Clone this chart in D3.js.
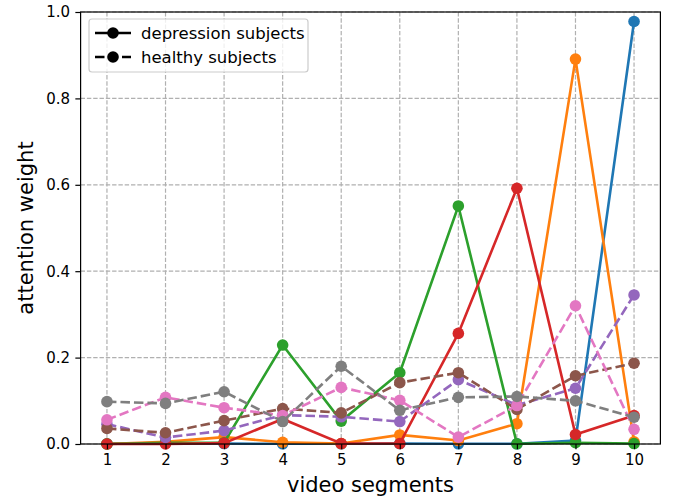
<!DOCTYPE html>
<html>
<head>
<meta charset="utf-8">
<script src="https://cdn.jsdelivr.net/npm/d3@7"></script>
<style>
  body { margin: 0; background: #fff; }
  text { font-family: 'DejaVu Sans', sans-serif; }
</style>
</head>
<body>
<svg class="chart" width="677" height="502"></svg>
<script>
const segments = [1, 2, 3, 4, 5, 6, 7, 8, 9, 10];
const yTicks = [0, 0.2, 0.4, 0.6, 0.8, 1.0];

// depression subjects (solid)
const depBlue = [0.0005, 0.002, 0.001, 0.0005, 0.0005, 0.001, 0.0005, 0.0005, 0.008, 0.978];
const depOrange = [0.0, 0.005, 0.016, 0.004, 0.001, 0.021, 0.008, 0.047, 0.891, 0.005];
const depGreen = [0.0, 0.003, 0.003, 0.229, 0.053, 0.165, 0.551, 0.0005, 0.003, 0.001];
const depRed = [0.0, 0.0, 0.002, 0.058, 0.001, 0.001, 0.256, 0.592, 0.022, 0.066];

// healthy subjects (dashed)
const hlPurple = [0.046, 0.015, 0.031, 0.067, 0.063, 0.052, 0.149, 0.09, 0.129, 0.345];
const hlBrown = [0.036, 0.026, 0.054, 0.082, 0.072, 0.142, 0.165, 0.08, 0.158, 0.187];
const hlPink = [0.056, 0.108, 0.084, 0.066, 0.131, 0.101, 0.016, 0.089, 0.32, 0.034];
const hlGray = [0.098, 0.094, 0.121, 0.052, 0.18, 0.078, 0.108, 0.11, 0.1, 0.062];

const series = [
  { values: depBlue, color: '#1f77b4', dashed: false },
  { values: depOrange, color: '#ff7f0e', dashed: false },
  { values: depGreen, color: '#2ca02c', dashed: false },
  { values: depRed, color: '#d62728', dashed: false },
  { values: hlPurple, color: '#9467bd', dashed: true },
  { values: hlBrown, color: '#8c564b', dashed: true },
  { values: hlPink, color: '#e377c2', dashed: true },
  { values: hlGray, color: '#7f7f7f', dashed: true },
];

const svg = d3.select('.chart');
const plot = { left: 80.6, right: 660.4, top: 12, bottom: 444 };
const lineWidth = 2.6;
const dash = '9.5,4';
const markerR = 5.8;

const x = d3.scaleLinear().domain([0.55, 10.45]).range([plot.left, plot.right]);
const y = d3.scaleLinear().domain([0, 1]).range([plot.bottom, plot.top]);

function drawGrid() {
  const grid = svg.append('g').attr('class', 'grid');
  grid.selectAll('.grid__x')
    .data(segments)
    .enter()
    .append('line')
    .attr('x1', d => x(d)).attr('x2', d => x(d))
    .attr('y1', plot.top).attr('y2', plot.bottom)
    .attr('stroke', '#b0b0b0')
    .attr('stroke-width', 1.2)
    .attr('stroke-dasharray', '4.4,1.9');
  grid.selectAll('.grid__y')
    .data(yTicks)
    .enter()
    .append('line')
    .attr('x1', plot.left).attr('x2', plot.right)
    .attr('y1', d => y(d)).attr('y2', d => y(d))
    .attr('stroke', '#b0b0b0')
    .attr('stroke-width', 1.2)
    .attr('stroke-dasharray', '4.4,1.9');
}

function drawSeries() {
  const line = d3.line().x((d, i) => x(segments[i])).y(d => y(d));
  series.forEach((s) => {
    const g = svg.append('g').attr('class', 'series');
    g.append('path')
      .datum(s.values)
      .attr('fill', 'none')
      .attr('stroke', s.color)
      .attr('stroke-width', lineWidth)
      .attr('stroke-dasharray', s.dashed ? dash : null)
      .attr('d', line);
    g.selectAll('circle')
      .data(s.values)
      .enter()
      .append('circle')
      .attr('cx', (d, i) => x(segments[i]))
      .attr('cy', d => y(d))
      .attr('r', markerR)
      .attr('fill', s.color);
  });
}

function drawAxes() {
  const xAxis = svg.append('g')
    .attr('transform', `translate(0, ${plot.bottom})`)
    .call(d3.axisBottom(x).tickValues(segments).tickSize(5.25).tickPadding(5.25).tickFormat(d3.format('d')));
  const yAxis = svg.append('g')
    .attr('transform', `translate(${plot.left}, 0)`)
    .call(d3.axisLeft(y).tickValues(yTicks).tickSize(5.25).tickPadding(5.25).tickFormat(d3.format('.1f')));
  [xAxis, yAxis].forEach((a) => {
    a.select('.domain').remove();
    a.selectAll('text').attr('font-size', '15px').attr('fill', '#000').attr('font-family', 'DejaVu Sans');
    a.selectAll('line').attr('stroke', '#000').attr('stroke-width', 1.2);
  });

  svg.append('rect')
    .attr('x', plot.left).attr('y', plot.top)
    .attr('width', plot.right - plot.left).attr('height', plot.bottom - plot.top)
    .attr('fill', 'none')
    .attr('stroke', '#000')
    .attr('stroke-width', 1.2);

  svg.append('text')
    .attr('x', (plot.left + plot.right) / 2)
    .attr('y', 492)
    .attr('text-anchor', 'middle')
    .attr('font-size', '21px')
    .text('video segments');

  svg.append('text')
    .attr('transform', `translate(33, ${(plot.top + plot.bottom) / 2}) rotate(-90)`)
    .attr('text-anchor', 'middle')
    .attr('font-size', '21px')
    .text('attention weight');
}

function drawLegend() {
  const legend = svg.append('g').attr('class', 'legend');
  legend.append('rect')
    .attr('x', 89).attr('y', 19)
    .attr('width', 219).attr('height', 53)
    .attr('rx', 3)
    .attr('fill', '#fff')
    .attr('fill-opacity', 0.8)
    .attr('stroke', '#cccccc')
    .attr('stroke-width', 1.2);
  const entries = [
    { label: 'depression subjects', dashed: false },
    { label: 'healthy subjects', dashed: true },
  ];
  const rows = legend.selectAll('.legend__row')
    .data(entries)
    .enter()
    .append('g')
    .attr('transform', (d, i) => `translate(0, ${33 + i * 24})`);
  rows.append('line')
    .attr('x1', 95).attr('x2', 131)
    .attr('stroke', '#000')
    .attr('stroke-width', lineWidth)
    .attr('stroke-dasharray', d => d.dashed ? dash : null);
  rows.append('circle')
    .attr('cx', 113).attr('r', markerR).attr('fill', '#000');
  rows.append('text')
    .attr('x', 141)
    .attr('dy', '0.35em')
    .attr('font-size', '16.5px')
    .text(d => d.label);
}

drawGrid();
drawSeries();
drawAxes();
drawLegend();
</script>
</body>
</html>
